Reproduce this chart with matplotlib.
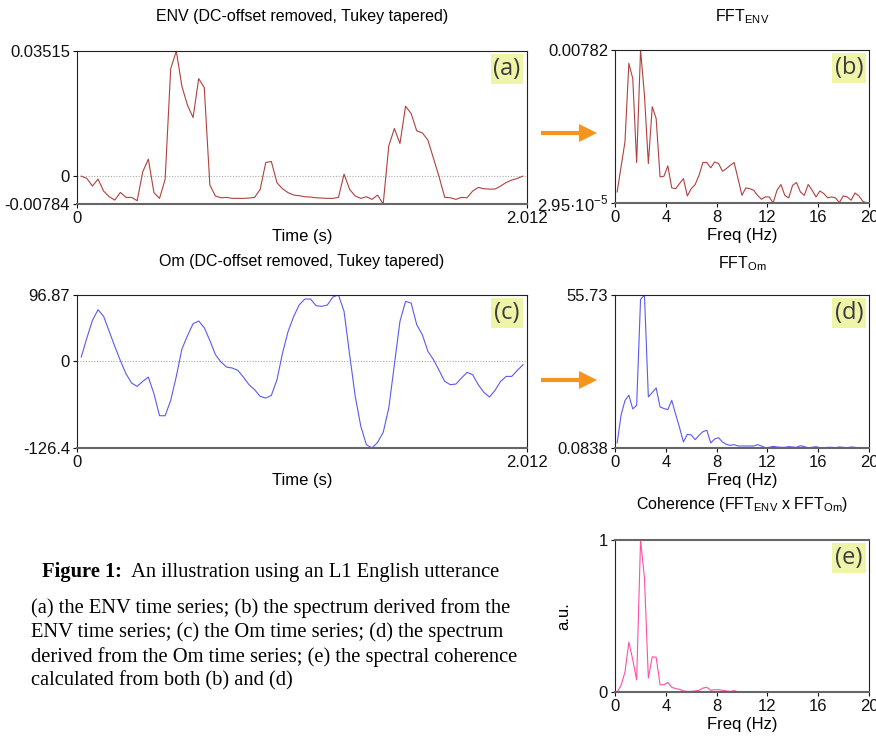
import numpy as np
import matplotlib
matplotlib.use('Agg')
from matplotlib import pyplot as plt
from matplotlib.patches import FancyArrowPatch

plt.rcParams['font.family'] = ['Liberation Sans', 'DejaVu Sans']
plt.rcParams['mathtext.fontset'] = 'custom'
plt.rcParams['mathtext.rm'] = 'Liberation Sans'

# sample grid of the time series (s) and of the spectra (Hz)
t_start, t_step = 0.019, 0.025
f_start, f_step = 0.17, 0.307

# ENV time series (DC-offset removed, Tukey tapered)
env = [0.0, -0.00065, -0.00280, -0.00084, -0.00421, -0.00580, -0.00673, -0.00458, -0.00598, -0.00598,
       -0.00692, 0.00122, 0.00477, -0.00467, -0.00626, -0.00093, 0.03019, 0.03515, 0.02524, 0.01991,
       0.01645, 0.02739, 0.02487, -0.00252, -0.00561, -0.00608, -0.00598, -0.00626, -0.00626, -0.00626,
       -0.00617, -0.00598, -0.00374, 0.00383, 0.00411, -0.00187, -0.00355, -0.00467, -0.00533, -0.00552,
       -0.00580, -0.00589, -0.00608, -0.00617, -0.00626, -0.00626, -0.00598, 0.00056, -0.00374, -0.00561,
       -0.00626, -0.00580, -0.00654, -0.00533, -0.00784, 0.00851, 0.01337, 0.00916, 0.01963, 0.01757,
       0.01271, 0.01215, 0.01010, 0.00495, -0.00019, -0.00598, -0.00608, -0.00654, -0.00598, -0.00608,
       -0.00421, -0.00318, -0.00355, -0.00365, -0.00365, -0.00280, -0.00178, -0.00112, -0.00065, 0.0]

# Om time series
om = [6.3, 34.0, 59.8, 75.4, 65.7, 43.8, 21.9, 1.0, -18.0, -31.6,
      -36.5, -29.2, -22.9, -47.2, -79.3, -79.3, -56.9, -21.9, 18.0, 37.5,
      55.0, 58.9, 49.1, 30.6, 9.7, -1.0, -8.3, -9.7, -13.1, -22.9,
      -34.0, -41.3, -51.1, -53.5, -49.6, -26.8, 12.2, 43.8, 65.7, 82.7,
      91.0, 91.0, 81.2, 80.3, 82.2, 93.9, 96.87, 73.0, 9.7, -51.1,
      -94.8, -121.6, -126.4, -118.2, -103.6, -68.1, -4.9, 58.4, 87.6, 85.1,
      53.5, 38.9, 14.6, 2.4, -13.1, -29.2, -34.0, -33.1, -24.3, -16.1,
      -19.5, -34.0, -45.2, -52.0, -42.3, -29.2, -21.9, -21.9, -13.1, -4.9]

# spectra
fft_env = [0.00059, 0.00187, 0.00314, 0.00714, 0.00637, 0.00209, 0.00782, 0.00552, 0.00204, 0.00493,
           0.00433, 0.00136, 0.00139, 0.00192, 0.00080, 0.00076, 0.00102, 0.00127, 0.00039, 0.00076,
           0.00097, 0.00144, 0.00209, 0.00209, 0.00182, 0.00212, 0.00204, 0.00165, 0.00178, 0.00195,
           0.00209, 0.00127, 0.00042, 0.00080, 0.00076, 0.00068, 0.00042, 0.00022, 0.00034, 0.00034,
           0.0000295, 0.00068, 0.00097, 0.00042, 0.00029, 0.00093, 0.00107, 0.00059, 0.00042, 0.00097,
           0.00068, 0.00034, 0.00064, 0.00051, 0.00029, 0.00034, 0.00029, 0.00005, 0.00039, 0.00034,
           0.00017, 0.00054, 0.00039, 0.00012, 0.0000295]

fft_om = [1.91, 11.99, 17.34, 19.28, 14.30, 15.64, 54.15, 55.73, 18.67, 20.25,
          21.95, 15.03, 14.42, 14.06, 17.46, 12.36, 7.50, 2.27, 5.07, 4.82,
          3.12, 4.70, 6.04, 6.52, 1.91, 3.36, 3.85, 2.27, 1.42, 1.06,
          1.30, 0.81, 0.81, 0.81, 0.81, 0.81, 1.30, 0.81, 0.20, 0.33,
          0.69, 0.45, 0.33, 0.33, 0.57, 0.45, 0.33, 0.93, 0.57, 0.20,
          0.33, 0.57, 0.20, 0.20, 0.33, 0.33, 0.20, 0.45, 0.33, 0.20,
          0.45, 0.33, 0.20, 0.20, 0.0838]

coherence = [0.0, 0.044, 0.131, 0.328, 0.212, 0.079, 1.0, 0.75, 0.092, 0.232,
             0.228, 0.048, 0.048, 0.063, 0.031, 0.022, 0.018, 0.007, 0.004, 0.004,
             0.007, 0.011, 0.026, 0.031, 0.011, 0.015, 0.015, 0.011, 0.007, 0.004,
             0.009, 0.002, 0.0, 0.0, 0.0, 0.0, 0.0, 0.0, 0.0, 0.0,
             0.0, 0.0, 0.0, 0.0, 0.0, 0.0, 0.0, 0.0, 0.0, 0.0,
             0.0, 0.0, 0.0, 0.0, 0.0, 0.0, 0.0, 0.0, 0.0, 0.0,
             0.0, 0.0, 0.0, 0.0, 0.0]

time = t_start + t_step * np.arange(len(env))
freq = f_start + f_step * np.arange(len(fft_env))

W, H = 876, 737
fig = plt.figure(figsize=(W / 100, H / 100), dpi=100)


def panel(l, r, t, b):
    ax = fig.add_axes([l / W, 1 - b / H, (r - l) / W, (b - t) / H])
    for s in ['left', 'top', 'right']:
        ax.spines[s].set_color('#222222')
        ax.spines[s].set_linewidth(0.8)
    ax.spines['bottom'].set_color('#666666')
    ax.spines['bottom'].set_linewidth(1.5)
    ax.tick_params(labelsize=12, length=3, width=0.8, pad=2, colors='#111111')
    return ax


def title(ax, s, dy):
    ax.annotate(s, xy=(0.5, 1), xycoords='axes fraction', xytext=(0, dy),
                textcoords='offset pixels', ha='center', va='center', fontsize=11.5)


def tag(ax, s):
    ax.annotate(s, xy=(1, 1), xycoords='axes fraction', xytext=(-20, -18),
                textcoords='offset pixels', ha='center', va='center',
                fontsize=17, family='Open Sans', color='#3c3c3c',
                bbox=dict(boxstyle='square,pad=0.12', fc='#eef4a8', ec='none'))


def zero_line(ax):
    ax.axhline(0, color='#aaaaaa', lw=0.8, ls=(0, (1, 1.5)))


# (a) ENV
ax_a = panel(77, 527, 51, 204)
zero_line(ax_a)
ax_a.plot(time, env, color='#b0413e', lw=0.8)
ax_a.set_xlim(0, 2.012)
ax_a.set_ylim(-0.00784, 0.03515)
ax_a.set_xticks([0, 2.012], ['0', '2.012'])
ax_a.set_yticks([-0.00784, 0, 0.03515], ['-0.00784', '0', '0.03515'])
ax_a.set_xlabel('Time (s)', fontsize=12, labelpad=2)
title(ax_a, 'ENV (DC-offset removed, Tukey tapered)', 34)
tag(ax_a, '(a)')

# (c) Om
ax_c = panel(77, 527, 295, 448)
zero_line(ax_c)
ax_c.plot(time, om, color='#5a5af0', lw=0.8)
ax_c.set_xlim(0, 2.012)
ax_c.set_ylim(-126.4, 96.87)
ax_c.set_xticks([0, 2.012], ['0', '2.012'])
ax_c.set_yticks([-126.4, 0, 96.87], ['-126.4', '0', '96.87'])
ax_c.set_xlabel('Time (s)', fontsize=12, labelpad=2)
title(ax_c, 'Om (DC-offset removed, Tukey tapered)', 34)
tag(ax_c, '(c)')

freq_ticks = [0, 4, 8, 12, 16, 20]

# (b) FFT ENV
ax_b = panel(615, 869, 50, 203)
ax_b.plot(freq, fft_env, color='#b0413e', lw=0.8)
ax_b.set_xlim(0, 20)
ax_b.set_ylim(0.0000295, 0.00782)
ax_b.set_xticks(freq_ticks)
ax_b.set_yticks([0.0000295, 0.00782], ['2.95\u00b710$^{\\mathregular{-5}}$', '0.00782'])
ax_b.set_xlabel('Freq (Hz)', fontsize=12, labelpad=2)
title(ax_b, 'FFT$_{\\mathregular{ENV}}$', 33)
tag(ax_b, '(b)')

# (d) FFT Om
ax_d = panel(615, 869, 295, 448)
ax_d.plot(freq, fft_om, color='#5a5af0', lw=0.8)
ax_d.set_xlim(0, 20)
ax_d.set_ylim(0.0838, 55.73)
ax_d.set_xticks(freq_ticks)
ax_d.set_yticks([0.0838, 55.73], ['0.0838', '55.73'])
ax_d.set_xlabel('Freq (Hz)', fontsize=12, labelpad=2)
title(ax_d, 'FFT$_{\\mathregular{Om}}$', 31)
tag(ax_d, '(d)')

# (e) coherence
ax_e = panel(615, 869, 540, 692)
ax_e.spines['top'].set_color('#666666')
ax_e.spines['top'].set_linewidth(1.5)
ax_e.plot(freq, coherence, color='#ff4fa8', lw=0.8)
ax_e.set_xlim(0, 20)
ax_e.set_ylim(0, 1)
ax_e.set_xticks(freq_ticks)
ax_e.set_yticks([0, 1], ['0', '1'])
ax_e.set_xlabel('Freq (Hz)', fontsize=12, labelpad=2)
ax_e.set_ylabel('a.u.', fontsize=12, labelpad=20)
title(ax_e, 'Coherence (FFT$_{\\mathregular{ENV}}$ x FFT$_{\\mathregular{Om}}$)', 35)
tag(ax_e, '(e)')

# orange arrows between time series and spectra
for y in [133, 380]:
    arr = FancyArrowPatch((541 / 100, (H - y) / 100), (597 / 100, (H - y) / 100),
                          transform=fig.dpi_scale_trans,
                          arrowstyle='simple,head_width=1.0,head_length=1.0,tail_width=0.23',
                          mutation_scale=13, shrinkA=0, shrinkB=0,
                          color='#f7941d', lw=0)
    fig.add_artist(arr)

# caption
serif = ['Liberation Serif', 'DejaVu Serif']
cap1 = fig.text(42 / W, 1 - 572 / H, 'Figure 1:', family=serif, fontweight='bold',
                fontsize=14.8, va='center', ha='left')
ax_e.annotate('  An illustration using an L1 English utterance', xy=(1, 0), xycoords=cap1,
              va='bottom', ha='left', family=serif, fontsize=14.8)
fig.text(31 / W, 1 - 598 / H,
         '(a) the ENV time series; (b) the spectrum derived from the\n'
         'ENV time series; (c) the Om time series; (d) the spectrum\n'
         'derived from the Om time series; (e) the spectral coherence\n'
         'calculated from both (b) and (d)',
         family=serif, fontsize=14.8, va='top', ha='left', linespacing=1.31)

fig.savefig('out.png', dpi=100)
